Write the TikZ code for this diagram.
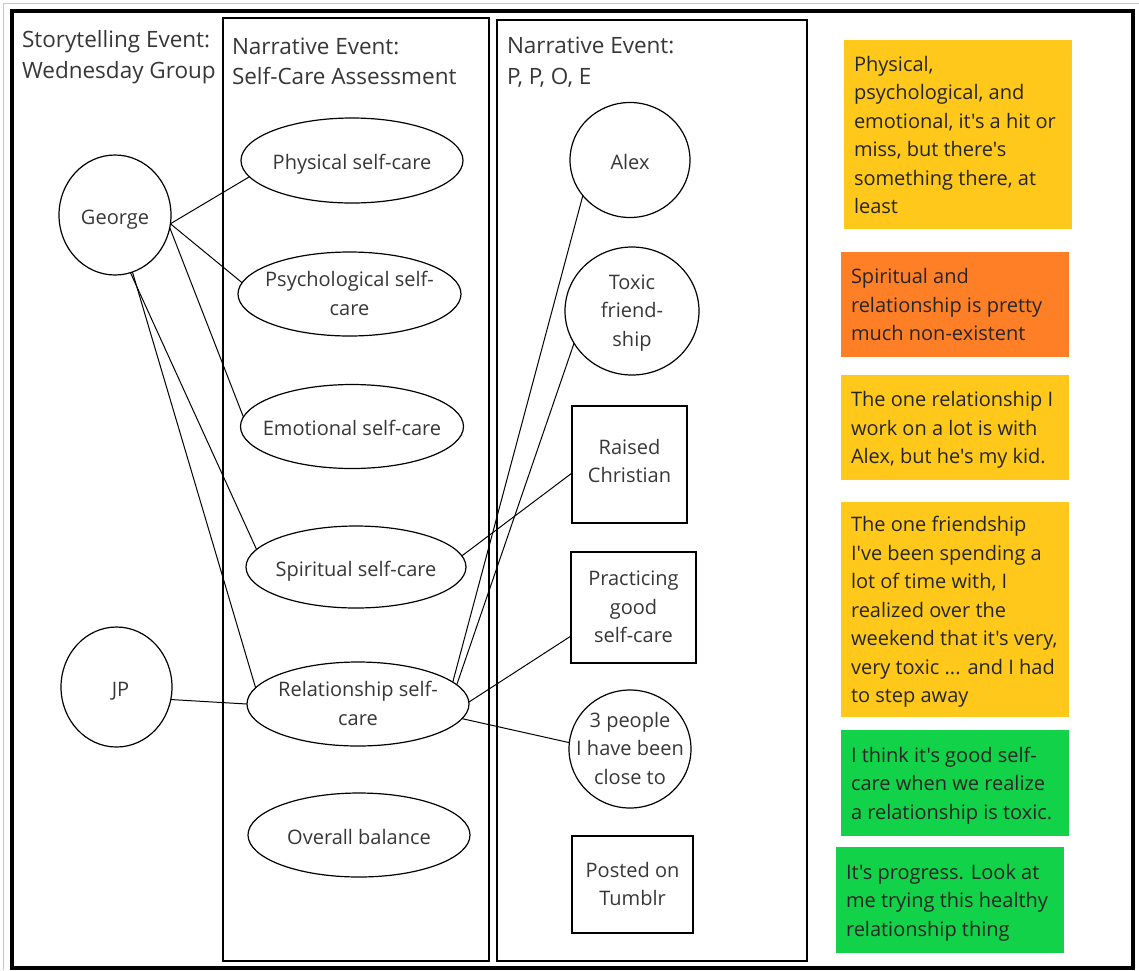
\documentclass[tikz,border=0pt]{standalone}
\usepackage{fontspec}
\setmainfont{Open Sans}[Ligatures=TeXOff]
\usetikzlibrary{shapes.geometric}
\definecolor{noteyellow}{RGB}{255,200,26}
\definecolor{noteorange}{RGB}{255,127,39}
\definecolor{notegreen}{RGB}{17,210,72}
\definecolor{inkgray}{RGB}{55,55,55}
\definecolor{shadowgray}{RGB}{200,200,200}

\begin{document}
\begin{tikzpicture}[x=1pt,y=-1pt,
  every node/.style={inner sep=0pt, outer sep=0pt},
  ell/.style={ellipse, draw=black, line width=1.2pt},
  sqbox/.style={rectangle, draw=black, line width=1.2pt},
  lbl/.style={align=center, text=inkgray, font=\fontsize{20}{28.5}\selectfont,
    yshift=-3.5pt,
    execute at begin node=\strut, execute at end node=\strut},
  heading/.style={align=left, anchor=north west, text=inkgray,
    font=\fontsize{22.5}{30.5}\selectfont, execute at begin node=\strut},
  link/.style={line width=1pt, draw=black},
  note/.style={rectangle, anchor=north west},
  notetext/.style={anchor=west, align=left, text=black!85,
    font=\fontsize{20}{28.5}\selectfont, yshift=-4.5pt,
    execute at begin node=\strut, execute at end node=\strut},
  panel/.style={draw=black, line width=1.5pt}
]
\useasboundingbox (0,0) rectangle (1139,970);

% window edge and outer frame
\draw[shadowgray, line width=1pt] (3.5,970) -- (3.5,3.5) -- (1139,3.5);
\draw[black, line width=4pt] (11.5,11) rectangle (1133,967.5);

% event panels
\draw[panel] (223,18) rectangle (489,961);
\draw[panel] (497,20) rectangle (807,961);

% headings
\node[heading] (h1) at (22,30.5) {Storytelling Event:\\Wednesday Group};
\node[heading] (h2) at (232,37.5) {Narrative Event:\\Self-Care Assessment};
\node[heading] (h3) at (507,37) {Narrative Event:\\P, P, O, E};

% storytellers
\node[ell, minimum width=112, minimum height=120] (george) at (115,215) {};
\node[lbl] (george-t) at (george.center) {George};
\node[ell, minimum width=111, minimum height=120] (jp) at (116.5,687) {};
\node[lbl] (jp-t) at ([xshift=4pt]jp.center) {JP};

% self-care assessment
\node[ell, minimum width=222, minimum height=85] (phys) at (352,160.5) {};
\node[lbl] (phys-t) at (phys.center) {Physical self-care};
\node[ell, minimum width=223, minimum height=84] (psych) at (349.5,294) {};
\node[lbl] (psych-t) at (psych.center) {Psychological self-\\care};
\node[ell, minimum width=223, minimum height=84] (emot) at (352,426.5) {};
\node[lbl] (emot-t) at (emot.center) {Emotional self-care};
\node[ell, minimum width=220, minimum height=82] (spirit) at (356,567) {};
\node[lbl] (spirit-t) at (spirit.center) {Spiritual self-care};
\node[ell, minimum width=222, minimum height=84] (relat) at (358,704) {};
\node[lbl] (relat-t) at (relat.center) {Relationship self-\\care};
\node[ell, minimum width=222, minimum height=84] (overall) at (359,835) {};
\node[lbl] (overall-t) at (overall.center) {Overall balance};

% P, P, O, E
\node[ell, minimum width=120, minimum height=115] (alex) at (630,160) {};
\node[lbl] (alex-t) at (alex.center) {Alex};
\node[ell, minimum width=134, minimum height=128] (toxic) at (632,311) {};
\node[lbl] (toxic-t) at (toxic.center) {Toxic\\friend-\\ship};
\node[sqbox, minimum width=115, minimum height=117] (raised) at (629.5,464.5) {};
\node[lbl] (raised-t) at ([yshift=3pt]raised.center) {Raised\\Christian};
\node[sqbox, minimum width=125, minimum height=111] (practicing) at (633.5,607.5) {};
\node[lbl] (practicing-t) at (practicing.center) {Practicing\\good\\self-care};
\node[ell, minimum width=122, minimum height=118] (three) at (630,749) {};
\node[lbl] (three-t) at (three.center) {3 people\\I have been\\close to};
\node[sqbox, minimum width=121, minimum height=97] (posted) at (632.5,884.5) {};
\node[lbl] (posted-t) at (posted.center) {Posted on\\Tumblr};

% connectors
\draw[link] (george.-9) -- (phys.-171);
\draw[link] (george.-9) -- (psych.174);
\draw[link] (george.-13) -- (emot.175);
\draw[link] (george.-75) -- (spirit.170);
\draw[link] (george.-73) -- (relat.171);
\draw[link] (jp.-13) -- (relat.west);
\draw[link] (relat.13) -- (alex.-143);
\draw[link] (relat.11) -- (toxic.-151);
\draw[link] (spirit.6) -- ([yshift=-8.5pt]raised.west);
\draw[link] (relat.1) -- ([yshift=-28.5pt]practicing.west);
\draw[link] (relat.-8) -- (three.174);

% quotes
\node[note, fill=noteyellow, minimum width=228, minimum height=189] (n1) at (844,40) {};
\node[notetext] (n1-t) at ([xshift=10pt]n1.west) {Physical,\\psychological, and\\emotional, it's a hit or\\miss, but there's\\something there, at\\least};
\node[note, fill=noteorange, minimum width=228, minimum height=105] (n2) at (841,252) {};
\node[notetext] (n2-t) at ([xshift=10pt]n2.west) {Spiritual and\\relationship is pretty\\much non-existent};
\node[note, fill=noteyellow, minimum width=228, minimum height=105] (n3) at (841,375) {};
\node[notetext] (n3-t) at ([xshift=10pt]n3.west) {The one relationship I\\work on a lot is with\\Alex, but he's my kid.};
\node[note, fill=noteyellow, minimum width=228, minimum height=215] (n4) at (841,502) {};
\node[notetext] (n4-t) at ([xshift=10pt]n4.west) {The one friendship\\I've been spending a\\lot of time with, I\\realized over the\\weekend that it's very,\\very toxic ... and I had\\to step away};
\node[note, fill=notegreen, minimum width=228, minimum height=106] (n5) at (841,730) {};
\node[notetext] (n5-t) at ([xshift=10pt]n5.west) {I think it's good self-\\care when we realize\\a relationship is toxic.};
\node[note, fill=notegreen, minimum width=228, minimum height=106] (n6) at (836,847) {};
\node[notetext] (n6-t) at ([xshift=10pt]n6.west) {It's progress. Look at\\me trying this healthy\\relationship thing};
\end{tikzpicture}
\end{document}
